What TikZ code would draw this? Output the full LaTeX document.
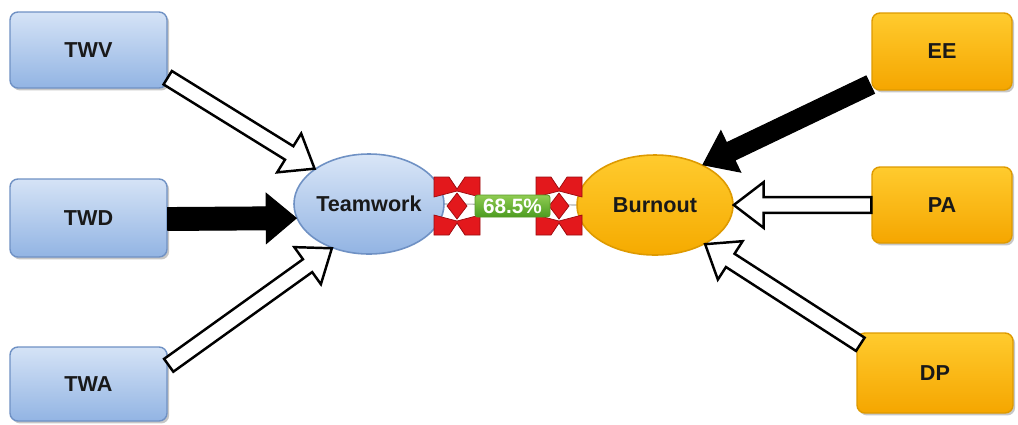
\documentclass[tikz,border=0pt]{standalone}
\usepackage{fontspec}
\setmainfont{Liberation Sans}
\usetikzlibrary{calc,shadows,shapes.geometric}
\definecolor{bluetop}{HTML}{D5E3F6}
\definecolor{bluebot}{HTML}{92B4E3}
\definecolor{blueline}{HTML}{6F91C4}
\definecolor{orgtop}{HTML}{FFCB2E}
\definecolor{orgbot}{HTML}{F5A600}
\definecolor{orgline}{HTML}{DE9A00}
\definecolor{grtop}{HTML}{8FCC52}
\definecolor{grbot}{HTML}{4C9C20}
\definecolor{grline}{HTML}{5A9A2A}
\definecolor{mred}{HTML}{E3181C}
\definecolor{mredline}{HTML}{9A0B0F}
\newcommand{\blockarrow}[6]{%
  \coordinate (#2h) at ($(#3)!#6!(#2)$);
  \path[#1] ($(#2)!#4!90:(#3)$) -- ($(#2h)!#4!90:(#3)$) -- ($(#2h)!#5!90:(#3)$) -- (#3)
    -- ($(#2h)!#5!-90:(#3)$) -- ($(#2h)!#4!-90:(#3)$) -- ($(#2)!#4!-90:(#3)$) -- cycle;}
\tikzset{
  lbltext/.style={font=\fontsize{12.3}{14}\selectfont\bfseries, text=black!90},
  shad/.style={drop shadow={shadow xshift=1.2pt, shadow yshift=-1.4pt, fill=black, opacity=0.22}},
  bbox/.style={rectangle, rounded corners=4.5pt, draw=blueline, line width=0.8pt,
    top color=bluetop, bottom color=bluebot, inner sep=0pt, lbltext, shad},
  obox/.style={rectangle, rounded corners=4.5pt, draw=orgline, line width=0.8pt,
    top color=orgtop, bottom color=orgbot, inner sep=0pt, lbltext, shad},
  twell/.style={ellipse, draw=blueline, line width=0.9pt, top color=bluetop!90!white, bottom color=bluebot,
    inner sep=0pt, minimum width=150*0.02cm, minimum height=100*0.02cm, lbltext},
  boell/.style={ellipse, draw=orgline, line width=0.9pt, top color=orgtop, bottom color=orgbot!95!yellow,
    inner sep=0pt, minimum width=156*0.02cm, minimum height=100*0.02cm, lbltext},
  hollow/.style={draw=black, fill=white, line width=1.4pt, line join=miter},
  solid/.style={draw=black, fill=black, line width=0.6pt, line join=miter},
  link/.style={draw=black!30, line width=0.6pt},
  pctlbl/.style={rectangle, rounded corners=1.5pt, draw=grline, line width=0.5pt,
    top color=grtop, bottom color=grbot, text=white, inner sep=0pt,
    font=\fontsize{11.8}{13}\selectfont\bfseries, minimum width=75*0.02cm, minimum height=22*0.02cm},
  xmark/.pic={
    \begin{scope}[fill=mred, draw=mredline, line width=0.4pt, line join=miter]
      \filldraw (-23,-29) -- (-8,-29) -- (0,-17) -- (8,-29) -- (23,-29) -- (23,-9) -- (0,-15) -- (-23,-9) -- cycle;
      \filldraw (-23,29) -- (-8,29) -- (0,17) -- (8,29) -- (23,29) -- (23,9) -- (0,15) -- (-23,9) -- cycle;
      \filldraw (-10,0) -- (0,-13) -- (10,0) -- (0,13) -- cycle;
    \end{scope}}
}
\begin{document}
\begin{tikzpicture}[x=0.02cm,y=-0.02cm]
\fill[white] (0,0) rectangle (1018,424);
\useasboundingbox (0,0) rectangle (1018,424);

% left boxes
\node[bbox, minimum width=157*0.02cm, minimum height=76*0.02cm] (twv) at (88.5,50) {TWV};
\node[bbox, minimum width=157*0.02cm, minimum height=78*0.02cm] (twd) at (88.5,218) {TWD};
\node[bbox, minimum width=157*0.02cm, minimum height=74*0.02cm] (twa) at (88.5,384) {TWA};
% right boxes
\node[obox, minimum width=140*0.02cm, minimum height=77*0.02cm] (ee) at (942,51.5) {EE};
\node[obox, minimum width=140*0.02cm, minimum height=76*0.02cm] (pa) at (942,205) {PA};
\node[obox, minimum width=156*0.02cm, minimum height=80*0.02cm] (dp) at (935,373) {DP};

% ellipses
\node[twell] (tw) at (369,204) {Teamwork};
\node[boell] (bo) at (655,205) {Burnout};

% link between constructs
\draw[link] (tw.east) -- (bo.west);
\coordinate (mk1) at (457,206);
\coordinate (mk2) at (559,206);
\pic at (mk1) {xmark};
\pic at (mk2) {xmark};
\node[pctlbl] (pct) at (512.5,206) {68.5\%};

% arrow end points
\coordinate (s1) at ($(twv.south east)+(0,-11)$);
\coordinate (e1) at (tw.147);
\coordinate (s2) at ($(twd.east)+(0,1)$);
\coordinate (e2) at (tw.191);
\coordinate (s3) at ($(twa.north east)+(1,19)$);
\coordinate (e3) at (tw.230);
\coordinate (s4) at ($(ee.south west)+(-1,-6)$);
\coordinate (e4) at (bo.40);
\coordinate (s5) at (pa.west);
\coordinate (e5) at (bo.0);
\coordinate (s6) at ($(dp.north west)+(4,12)$);
\coordinate (e6) at (bo.-38);

\blockarrow{hollow}{s1}{e1}{4.5pt}{13pt}{17pt}
\blockarrow{solid}{s2}{e2}{6.5pt}{14.2pt}{17pt}
\blockarrow{hollow}{s3}{e3}{4.5pt}{13pt}{17pt}
\blockarrow{solid}{s4}{e4}{5.5pt}{13pt}{17.5pt}
\blockarrow{hollow}{s5}{e5}{4.5pt}{13pt}{17pt}
\blockarrow{hollow}{s6}{e6}{4.5pt}{13pt}{17pt}
\end{tikzpicture}
\end{document}
